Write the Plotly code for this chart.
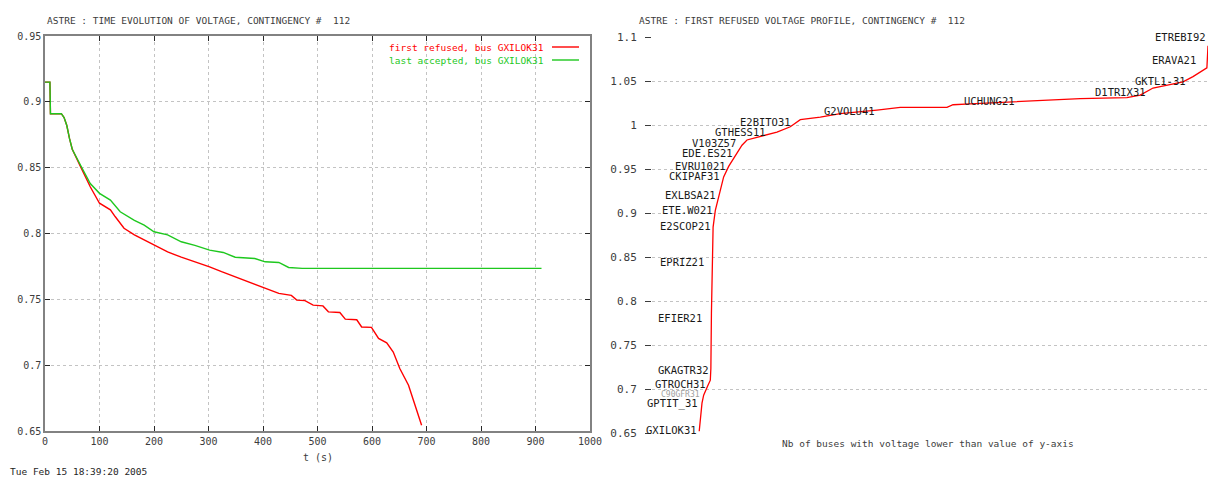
import plotly.graph_objects as go

# ---------------- data ----------------
# left: time evolution of voltage at bus GXILOK31
t_refused = [0, 9, 10, 30, 35, 40, 45, 50, 65, 83, 100, 120, 129, 145, 164, 182, 200, 225, 250, 275,
             302, 324, 349, 374, 404, 429, 452, 462, 477, 492, 510, 520, 541, 551, 572, 581, 599, 612,
             627, 639, 651, 667, 676, 691]
v_refused = [0.915, 0.915, 0.891, 0.891, 0.888, 0.882, 0.872, 0.864, 0.851, 0.8355, 0.823, 0.818, 0.8127,
             0.804, 0.799, 0.795, 0.791, 0.786, 0.782, 0.7785, 0.7747, 0.771, 0.767, 0.7633, 0.7583, 0.7545,
             0.753, 0.7494, 0.749, 0.7456, 0.745, 0.7405, 0.740, 0.735, 0.7345, 0.729, 0.7287, 0.7203,
             0.717, 0.710, 0.6975, 0.6848, 0.6734, 0.6544]

t_accepted = [0, 9, 10, 30, 35, 40, 45, 50, 65, 83, 100, 120, 138, 164, 182, 200, 225, 250, 275, 302,
              327, 349, 385, 404, 429, 447, 472, 911]
v_accepted = [0.915, 0.915, 0.891, 0.891, 0.888, 0.882, 0.872, 0.864, 0.852, 0.838, 0.8305, 0.8254, 0.8165,
              0.810, 0.8064, 0.8013, 0.799, 0.7937, 0.791, 0.7874, 0.7856, 0.782, 0.781, 0.7785, 0.778,
              0.7742, 0.7735, 0.7735]

# right: first refused voltage profile (buses sorted by voltage)
bus_rank = [0, 5, 8, 13, 15, 20, 21, 22, 23, 25, 29, 35, 44, 53, 62, 71, 77, 86, 110, 140, 164, 182,
            218, 254, 320, 362, 446, 457, 488, 542, 619, 686, 770, 794, 817, 842, 871, 889, 905, 914, 916]
bus_volt = [0.652, 0.684, 0.693, 0.699, 0.703, 0.710, 0.7235, 0.786, 0.824, 0.884, 0.903, 0.917, 0.941,
            0.953, 0.962, 0.972, 0.977, 0.983, 0.987, 0.992, 0.998, 1.006, 1.009, 1.013, 1.017, 1.020,
            1.020, 1.023, 1.024, 1.0255, 1.028, 1.030, 1.031, 1.034, 1.042, 1.045, 1.049, 1.055, 1.062,
            1.065, 1.09]

bus_names = ['ETREBI92', 'ERAVA21', 'GKTL1-31', 'D1TRIX31', 'UCHUNG21', 'G2VOLU41', 'E2BITO31',
             'GTHESS11', 'V103Z57', 'EDE.ES21', 'EVRU1021', 'CKIPAF31', 'EXLBSA21', 'ETE.W021',
             'E2SCOP21', 'EPRIZ21', 'EFIER21', 'GKAGTR32', 'GTROCH31', 'C90GFR31', 'GPTIT_31', 'GXILOK31']
name_rank = [916, 898, 880, 808, 572, 320, 169, 124, 70, 65, 52, 41, 34, 29, 25, 13, 9, 22, 16, 5, 2, 0]
name_volt = [1.100, 1.074, 1.050, 1.0375, 1.027, 1.016, 1.0034, 0.992, 0.980, 0.968, 0.953, 0.942,
             0.920, 0.903, 0.885, 0.844, 0.781, 0.722, 0.706, 0.694, 0.683, 0.653]

# ---------------- style ----------------
c_red = 'rgb(255, 0, 0)'
c_green = 'rgb(30, 200, 30)'
c_text = 'rgb(60, 60, 60)'
c_grid = 'rgb(195, 195, 195)'
mono = 'DejaVu Sans Mono'
W, H = 1210, 478

fig = go.Figure()

fig.add_trace(go.Scatter(x=t_refused, y=v_refused, mode='lines', xaxis='x', yaxis='y',
                         line=dict(color=c_red, width=1.4), showlegend=False))
fig.add_trace(go.Scatter(x=t_accepted, y=v_accepted, mode='lines', xaxis='x', yaxis='y',
                         line=dict(color=c_green, width=1.4), showlegend=False))
fig.add_trace(go.Scatter(x=bus_rank, y=bus_volt, mode='lines', xaxis='x2', yaxis='y2',
                         line=dict(color=c_red, width=1.3), showlegend=False))

tickfont = dict(family=mono, size=10, color=c_text)

fig.update_layout(
    width=W, height=H,
    margin=dict(l=0, r=0, t=0, b=0, autoexpand=False),
    paper_bgcolor='white', plot_bgcolor='white',
    xaxis=dict(domain=[45 / W, 590 / W], range=[0, 1000], dtick=100, tick0=0,
               showline=True, linecolor='rgb(130, 130, 130)', linewidth=1.5, mirror='allticks',
               ticks='inside', ticklen=5, tickcolor='rgb(40, 40, 40)', tickfont=tickfont,
               showgrid=True, gridcolor=c_grid, griddash='dot', gridwidth=1, zeroline=False,
               anchor='y', fixedrange=True, automargin=False),
    yaxis=dict(domain=[1 - 431 / H, 1 - 36 / H], range=[0.65, 0.95], dtick=0.05, tick0=0.65,
               showline=True, linecolor='rgb(130, 130, 130)', linewidth=1.5, mirror='allticks',
               ticks='inside', ticklen=5, tickcolor='rgb(40, 40, 40)', tickfont=tickfont,
               showgrid=True, gridcolor=c_grid, griddash='dot', gridwidth=1, zeroline=False,
               anchor='x', fixedrange=True, automargin=False),
    xaxis2=dict(domain=[652 / W, 1208 / W], range=[-85, 916], showticklabels=False, ticks='',
                showline=False, showgrid=False, zeroline=False, anchor='y2', fixedrange=True,
                automargin=False),
    yaxis2=dict(domain=[1 - 433 / H, 1 - 37 / H], range=[0.65, 1.1], dtick=0.05, tick0=0.65,
                showline=False, ticks='outside', ticklen=6, tickcolor='rgb(60, 60, 60)',
                ticklabelstandoff=6, tickfont=dict(family=mono, size=11, color=c_text),
                showgrid=True, gridcolor=c_grid, griddash='dot', gridwidth=1, zeroline=False,
                anchor='x2', fixedrange=True, automargin=False),
)

# bus name labels on the profile (the squeezed, faint one drawn smaller)
for name, r, v in zip(bus_names, name_rank, name_volt):
    faint = name == 'C90GFR31'
    fig.add_annotation(x=r, y=v, xref='x2', yref='y2', text=name, showarrow=False,
                       xanchor='right', yanchor='middle',
                       font=dict(family=mono, size=8 if faint else 10.5,
                                 color='rgb(160, 160, 160)' if faint else 'rgb(25, 25, 25)'))

# titles and axis labels
def paper_text(txt, x, y, xanchor='left', size=9.5, color=c_text):
    fig.add_annotation(x=x / W, y=1 - y / H, xref='paper', yref='paper', text=txt, showarrow=False,
                       xanchor=xanchor, yanchor='middle', font=dict(family=mono, size=size, color=color))

paper_text('ASTRE : TIME EVOLUTION OF VOLTAGE, CONTINGENCY #  112', 45, 20)
paper_text('ASTRE : FIRST REFUSED VOLTAGE PROFILE, CONTINGENCY #  112', 637, 20)
paper_text('t (s)', 318, 457, xanchor='center', size=10)
paper_text('Tue Feb 15 18:39:20 2005', 8, 471, size=9.5, color='rgb(30, 30, 30)')
paper_text('Nb of buses with voltage lower than value of y-axis', 928, 443, xanchor='center', size=9.5)

# legend of the left panel
paper_text('first refused, bus GXILOK31', 546, 47, xanchor='right', size=9.5, color=c_red)
paper_text('last accepted, bus GXILOK31', 546, 60, xanchor='right', size=9.5, color=c_green)
for yy, col in [(47, c_red), (60, c_green)]:
    fig.add_shape(type='line', xref='paper', yref='paper', x0=552 / W, x1=579 / W,
                  y0=1 - yy / H, y1=1 - yy / H, line=dict(color=col, width=1.4))

# drop the browser's default page margin so the figure fills the window
fig.write_html('out.html', config={'displayModeBar': False},
               post_script="document.body.style.margin='0';")
